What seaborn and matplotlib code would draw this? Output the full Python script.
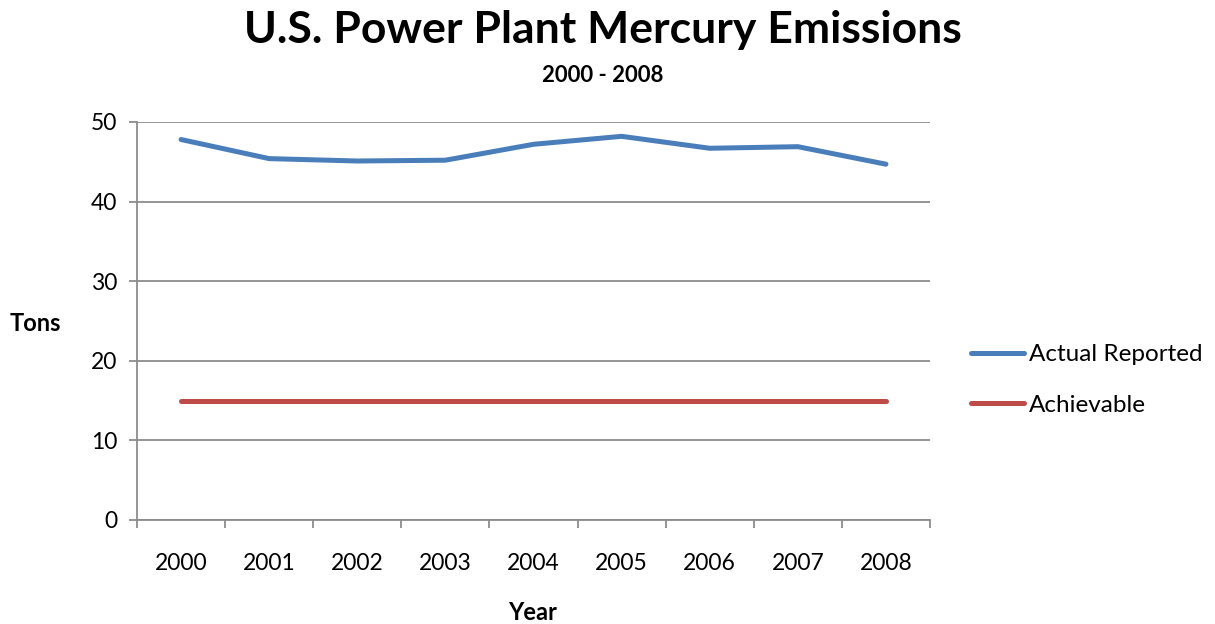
"""
Recreates the U.S. power plant mercury emissions line chart.
"""

import numpy as np
import pandas as pd
import matplotlib
matplotlib.use("Agg")
import matplotlib.pyplot as plt
from matplotlib.ticker import FixedLocator
import seaborn as sns

# ---------------------------------------------------------------------------
# Data
# ---------------------------------------------------------------------------
YEARS = [2000, 2001, 2002, 2003, 2004, 2005, 2006, 2007, 2008]
ACTUAL_REPORTED = [47.8, 45.4, 45.1, 45.2, 47.2, 48.2, 46.7, 46.9, 44.7]
ACHIEVABLE = [15, 15, 15, 15, 15, 15, 15, 15, 15]
SERIES_NAMES = ["Actual Reported", "Achievable"]
Y_TICKS = [0, 10, 20, 30, 40, 50]

COLORS = {"Actual Reported": "#4A7EBB", "Achievable": "#BE4B48"}
GRID = "#8C8C8C"

sns.set_theme(style="white")
plt.rcParams["font.family"] = ["Lato", "DejaVu Sans"]
plt.rcParams["text.color"] = "black"

df = pd.DataFrame({
    "Year": YEARS * 2,
    "Tons": ACTUAL_REPORTED + ACHIEVABLE,
    "Series": [SERIES_NAMES[0]] * len(YEARS) + [SERIES_NAMES[1]] * len(YEARS),
})

W, H = 1215, 624
fig = plt.figure(figsize=(W / 100, H / 100), dpi=100)
ax = fig.add_axes([137 / W, 1 - 520 / H, (930 - 137) / W, (520 - 122) / H])

sns.lineplot(data=df, x="Year", y="Tons", hue="Series", palette=COLORS,
             linewidth=3.6, ax=ax, legend=True)
for line in ax.get_lines():
    line.set_solid_capstyle("round")

ax.set_xlim(YEARS[0] - 0.5, YEARS[-1] + 0.5)
ax.set_ylim(Y_TICKS[0], Y_TICKS[-1])
ax.set_yticks(Y_TICKS)
ax.set_xticks(YEARS)
ax.set_xticklabels([str(y) for y in YEARS])
ax.xaxis.set_minor_locator(FixedLocator(np.arange(YEARS[0] - 0.5, YEARS[-1] + 1, 1)))

ax.grid(axis="y", color=GRID, linewidth=1.3)
ax.set_axisbelow(True)
for side in ["top", "right"]:
    ax.spines[side].set_visible(False)
for side in ["left", "bottom"]:
    ax.spines[side].set_color(GRID)
    ax.spines[side].set_linewidth(1.3)

ax.tick_params(axis="x", which="major", length=0, pad=24, labelsize=16.5, colors="black")
ax.tick_params(axis="x", which="minor", bottom=True, length=6, width=1.3, color=GRID)
ax.tick_params(axis="y", left=True, length=6, width=1.3, color=GRID,
               labelsize=16.5, labelcolor="black", pad=8)

ax.set_xlabel("")
ax.set_ylabel("")
fig.text(533 / W, 1 - 613 / H, "Year", ha="center", va="center",
         fontsize=17, fontweight="bold")
fig.text(35 / W, 1 - 323 / H, "Tons", ha="center", va="center",
         fontsize=17, fontweight="bold")

fig.text(603 / W, 1 - 30 / H, "U.S. Power Plant Mercury Emissions",
         ha="center", va="center", fontsize=32, fontweight="bold")
fig.text(603 / W, 1 - 75 / H, "2000 - 2008", ha="center", va="center",
         fontsize=16, fontweight="bold")

leg = ax.legend(loc="center left", bbox_to_anchor=(949 / W, 1 - 380 / H),
                bbox_transform=fig.transFigure, frameon=False, fontsize=17.5,
                handlelength=2.2, handletextpad=0.2, labelspacing=1.2)
for h in leg.get_lines():
    h.set_linewidth(3.6)
    h.set_solid_capstyle("round")

fig.savefig("out.png", dpi=100)
